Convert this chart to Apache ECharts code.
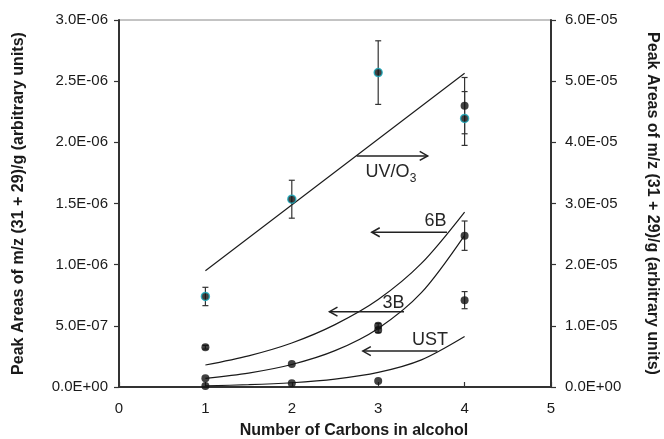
<!DOCTYPE html>
<html><head><meta charset="utf-8">
<script src="https://cdn.jsdelivr.net/npm/echarts@6/dist/echarts.min.js"></script>
<style>html,body{margin:0;padding:0;background:#fff}#c{width:664px;height:439px}</style>
</head><body><div id="c"></div>
<script>
// ---- data ----
const uvX = [1, 2, 3, 4];
const uvY = [1.48e-5, 3.07e-5, 5.14e-5, 4.39e-5];        // right axis
const uvErr = [1.5e-6, 3.1e-6, 5.2e-6, 4.4e-6];
const uvFitX = [1, 4];
const uvFitY = [1.90e-5, 5.13e-5];

const b6X = [1, 3, 4];
const b6Y = [3.25e-7, 5.0e-7, 2.30e-6];                   // left axis
const b6Err = [1.5e-8, 2.0e-8, 2.3e-7];
const b3X = [1, 2, 3, 4];
const b3Y = [7.1e-8, 1.88e-7, 4.65e-7, 1.237e-6];
const b3Err = [0, 0, 2.0e-8, 1.2e-7];
const ustX = [1, 2, 3, 4];
const ustY = [8e-9, 3.0e-8, 4.9e-8, 7.1e-7];
const ustErr = [0, 0, 0, 7e-8];

const fitX = [1, 1.5, 2, 2.5, 3, 3.5, 4];
const fit6B = [1.80e-7, 2.55e-7, 3.60e-7, 5.10e-7, 7.15e-7, 1.01e-6, 1.43e-6];
const fit3B = [7.1e-8, 1.14e-7, 1.84e-7, 2.97e-7, 4.79e-7, 7.71e-7, 1.24e-6];
const fitUST = [1.0e-8, 1.86e-8, 3.46e-8, 6.42e-8, 1.19e-7, 2.22e-7, 4.13e-7];

const xTicks = [0, 1, 2, 3, 4, 5];

// annotation labels (data coordinates, left axis)
const annLabels = ['UV/O', '6B', '3B', 'UST'];
const annSub = ['3', '', '', ''];
const annFrom = [2.751, 3.796, 3.299, 3.686];
const annTo = [3.573, 2.925, 2.436, 2.822];
const annY = [1.889e-6, 1.265e-6, 0.616e-6, 0.294e-6];
const annLabelX = [3.108, 3.663, 3.177, 3.600];
const annLabelY = [1.758e-6, 1.357e-6, 0.687e-6, 0.380e-6];
const annSubX = [3.403, 0, 0, 0];
const annSubY = [1.70e-6, 0, 0, 0];

// ---- helpers ----
const FONT = 'Liberation Sans';
function sci(v) {
  if (Math.abs(v) < 1e-20) return '0.0E+00';
  const s = v.toExponential(1);
  const parts = s.split('e');
  const n = parseInt(parts[1], 10);
  return parts[0] + 'E' + (n < 0 ? '-' : '+') + String(Math.abs(n)).padStart(2, '0');
}
function errRender(params, api) {
  const x = api.value(0), y = api.value(1), e = api.value(2);
  if (!e) return null;
  const lo = api.coord([x, y - e]), hi = api.coord([x, y + e]);
  const w = 3, st = { stroke: '#333', lineWidth: 1.2 };
  return { type: 'group', children: [
    { type: 'line', shape: { x1: lo[0], y1: lo[1], x2: hi[0], y2: hi[1] }, style: st },
    { type: 'line', shape: { x1: lo[0] - w, y1: lo[1], x2: lo[0] + w, y2: lo[1] }, style: st },
    { type: 'line', shape: { x1: hi[0] - w, y1: hi[1], x2: hi[0] + w, y2: hi[1] }, style: st }
  ]};
}
function annRender(params, api) {
  const i = params.dataIndex;
  const p1 = api.coord([annFrom[i], annY[i]]);
  const p2 = api.coord([annTo[i], annY[i]]);
  const dir = p2[0] > p1[0] ? 1 : -1;
  const st = { stroke: '#222', lineWidth: 1.5, fill: null };
  const lp = api.coord([annLabelX[i], annLabelY[i]]);
  const ch = [
    { type: 'line', shape: { x1: p1[0], y1: p1[1], x2: p2[0], y2: p2[1] }, style: st },
    { type: 'polyline', shape: { points: [[p2[0] - dir * 8, p2[1] - 4.5], [p2[0], p2[1]], [p2[0] - dir * 8, p2[1] + 4.5]] }, style: st },
    { type: 'text', x: lp[0], y: lp[1], style: { text: annLabels[i], align: 'center', verticalAlign: 'middle', fill: '#262626', font: '18px "' + FONT + '"' } }
  ];
  if (annSub[i]) {
    const sp = api.coord([annSubX[i], annSubY[i]]);
    ch.push({ type: 'text', x: sp[0], y: sp[1], style: { text: annSub[i], align: 'center', verticalAlign: 'middle', fill: '#262626', font: '12px "' + FONT + '"' } });
  }
  return { type: 'group', children: ch };
}
const pairs = (xs, ys) => xs.map((x, i) => [x, ys[i]]);
const triples = (xs, ys, es) => xs.map((x, i) => [x, ys[i], es[i]]);

const axisLineStyle = { color: '#333', width: 2 };
const labelStyle = { fontFamily: FONT, fontSize: 15, color: '#1a1a1a' };
const nameStyle = { fontFamily: FONT, fontSize: 16, fontWeight: 'bold', color: '#1a1a1a' };
const yTitle = 'Peak Areas of m/z (31 + 29)/g (arbitrary units)';

const chart = echarts.init(document.getElementById('c'), null, { renderer: 'canvas' });
chart.setOption({
  animation: false,
  backgroundColor: '#fff',
  grid: { left: 119, right: 113, top: 20, bottom: 52, show: true, borderColor: '#888', borderWidth: 1, containLabel: false, outerBoundsMode: 'none' },
  xAxis: {
    type: 'value', min: xTicks[0], max: xTicks[xTicks.length - 1], interval: 1,
    name: 'Number of Carbons in alcohol', nameLocation: 'middle', nameGap: 36,
    nameTextStyle: Object.assign({ padding: [0, 0, 0, 38] }, nameStyle),
    axisLine: { show: true, lineStyle: axisLineStyle },
    axisTick: { show: true, inside: true, length: 5, lineStyle: { color: '#333', width: 1.2 } },
    axisLabel: Object.assign({ margin: 14 }, labelStyle),
    splitLine: { show: false }
  },
  yAxis: [
    {
      type: 'value', min: 0, max: 3e-6, interval: 5e-7, position: 'left',
      name: yTitle, nameLocation: 'middle', nameGap: 92, nameRotate: 90, nameTextStyle: nameStyle,
      axisLine: { show: true, lineStyle: axisLineStyle },
      axisTick: { show: true, length: 5, lineStyle: { color: '#333', width: 1.2 } },
      axisLabel: Object.assign({ margin: 11, formatter: sci }, labelStyle),
      splitLine: { show: false }
    },
    {
      type: 'value', min: 0, max: 6e-5, interval: 1e-5, position: 'right',
      name: yTitle, nameLocation: 'middle', nameGap: 93, nameRotate: -90, nameTextStyle: nameStyle,
      axisLine: { show: true, lineStyle: axisLineStyle },
      axisTick: { show: true, length: 5, lineStyle: { color: '#333', width: 1.2 } },
      axisLabel: Object.assign({ margin: 14, formatter: sci }, labelStyle),
      splitLine: { show: false }
    }
  ],
  series: [
    { name: 'UV/O3 fit', type: 'line', yAxisIndex: 1, data: pairs(uvFitX, uvFitY), symbol: 'none', lineStyle: { color: '#1a1a1a', width: 1.2 }, z: 2 },
    { name: '6B fit', type: 'line', yAxisIndex: 0, data: pairs(fitX, fit6B), smooth: 0.3, symbol: 'none', lineStyle: { color: '#1a1a1a', width: 1.2 }, z: 2 },
    { name: '3B fit', type: 'line', yAxisIndex: 0, data: pairs(fitX, fit3B), smooth: 0.3, symbol: 'none', lineStyle: { color: '#1a1a1a', width: 1.2 }, z: 2 },
    { name: 'UST fit', type: 'line', yAxisIndex: 0, data: pairs(fitX, fitUST), smooth: 0.3, symbol: 'none', lineStyle: { color: '#1a1a1a', width: 1.2 }, z: 2 },
    { type: 'custom', yAxisIndex: 1, renderItem: errRender, data: triples(uvX, uvY, uvErr), encode: { x: 0, y: 1 }, z: 3, silent: true },
    { type: 'custom', yAxisIndex: 0, renderItem: errRender, data: triples(b6X, b6Y, b6Err), encode: { x: 0, y: 1 }, z: 3, silent: true },
    { type: 'custom', yAxisIndex: 0, renderItem: errRender, data: triples(b3X, b3Y, b3Err), encode: { x: 0, y: 1 }, z: 3, silent: true },
    { type: 'custom', yAxisIndex: 0, renderItem: errRender, data: triples(ustX, ustY, ustErr), encode: { x: 0, y: 1 }, z: 3, silent: true },
    { name: '6B', type: 'scatter', yAxisIndex: 0, data: pairs(b6X, b6Y), symbolSize: 8, itemStyle: { color: '#111' }, z: 4 },
    { name: '3B', type: 'scatter', yAxisIndex: 0, data: pairs(b3X, b3Y), symbolSize: 8, itemStyle: { color: '#111' }, z: 4 },
    { name: 'UST', type: 'scatter', yAxisIndex: 0, data: pairs(ustX, ustY), symbolSize: 8, itemStyle: { color: '#111' }, z: 4 },
    { name: 'UV/O3', type: 'scatter', yAxisIndex: 1, data: pairs(uvX, uvY), symbolSize: 8, itemStyle: { color: '#111', borderColor: '#1aaec0', borderWidth: 1.5 }, z: 5 },
    { type: 'custom', yAxisIndex: 0, renderItem: annRender, data: pairs(annTo, annY), encode: { x: 0, y: 1 }, clip: false, z: 6, silent: true }
  ]
});
</script>
</body></html>
